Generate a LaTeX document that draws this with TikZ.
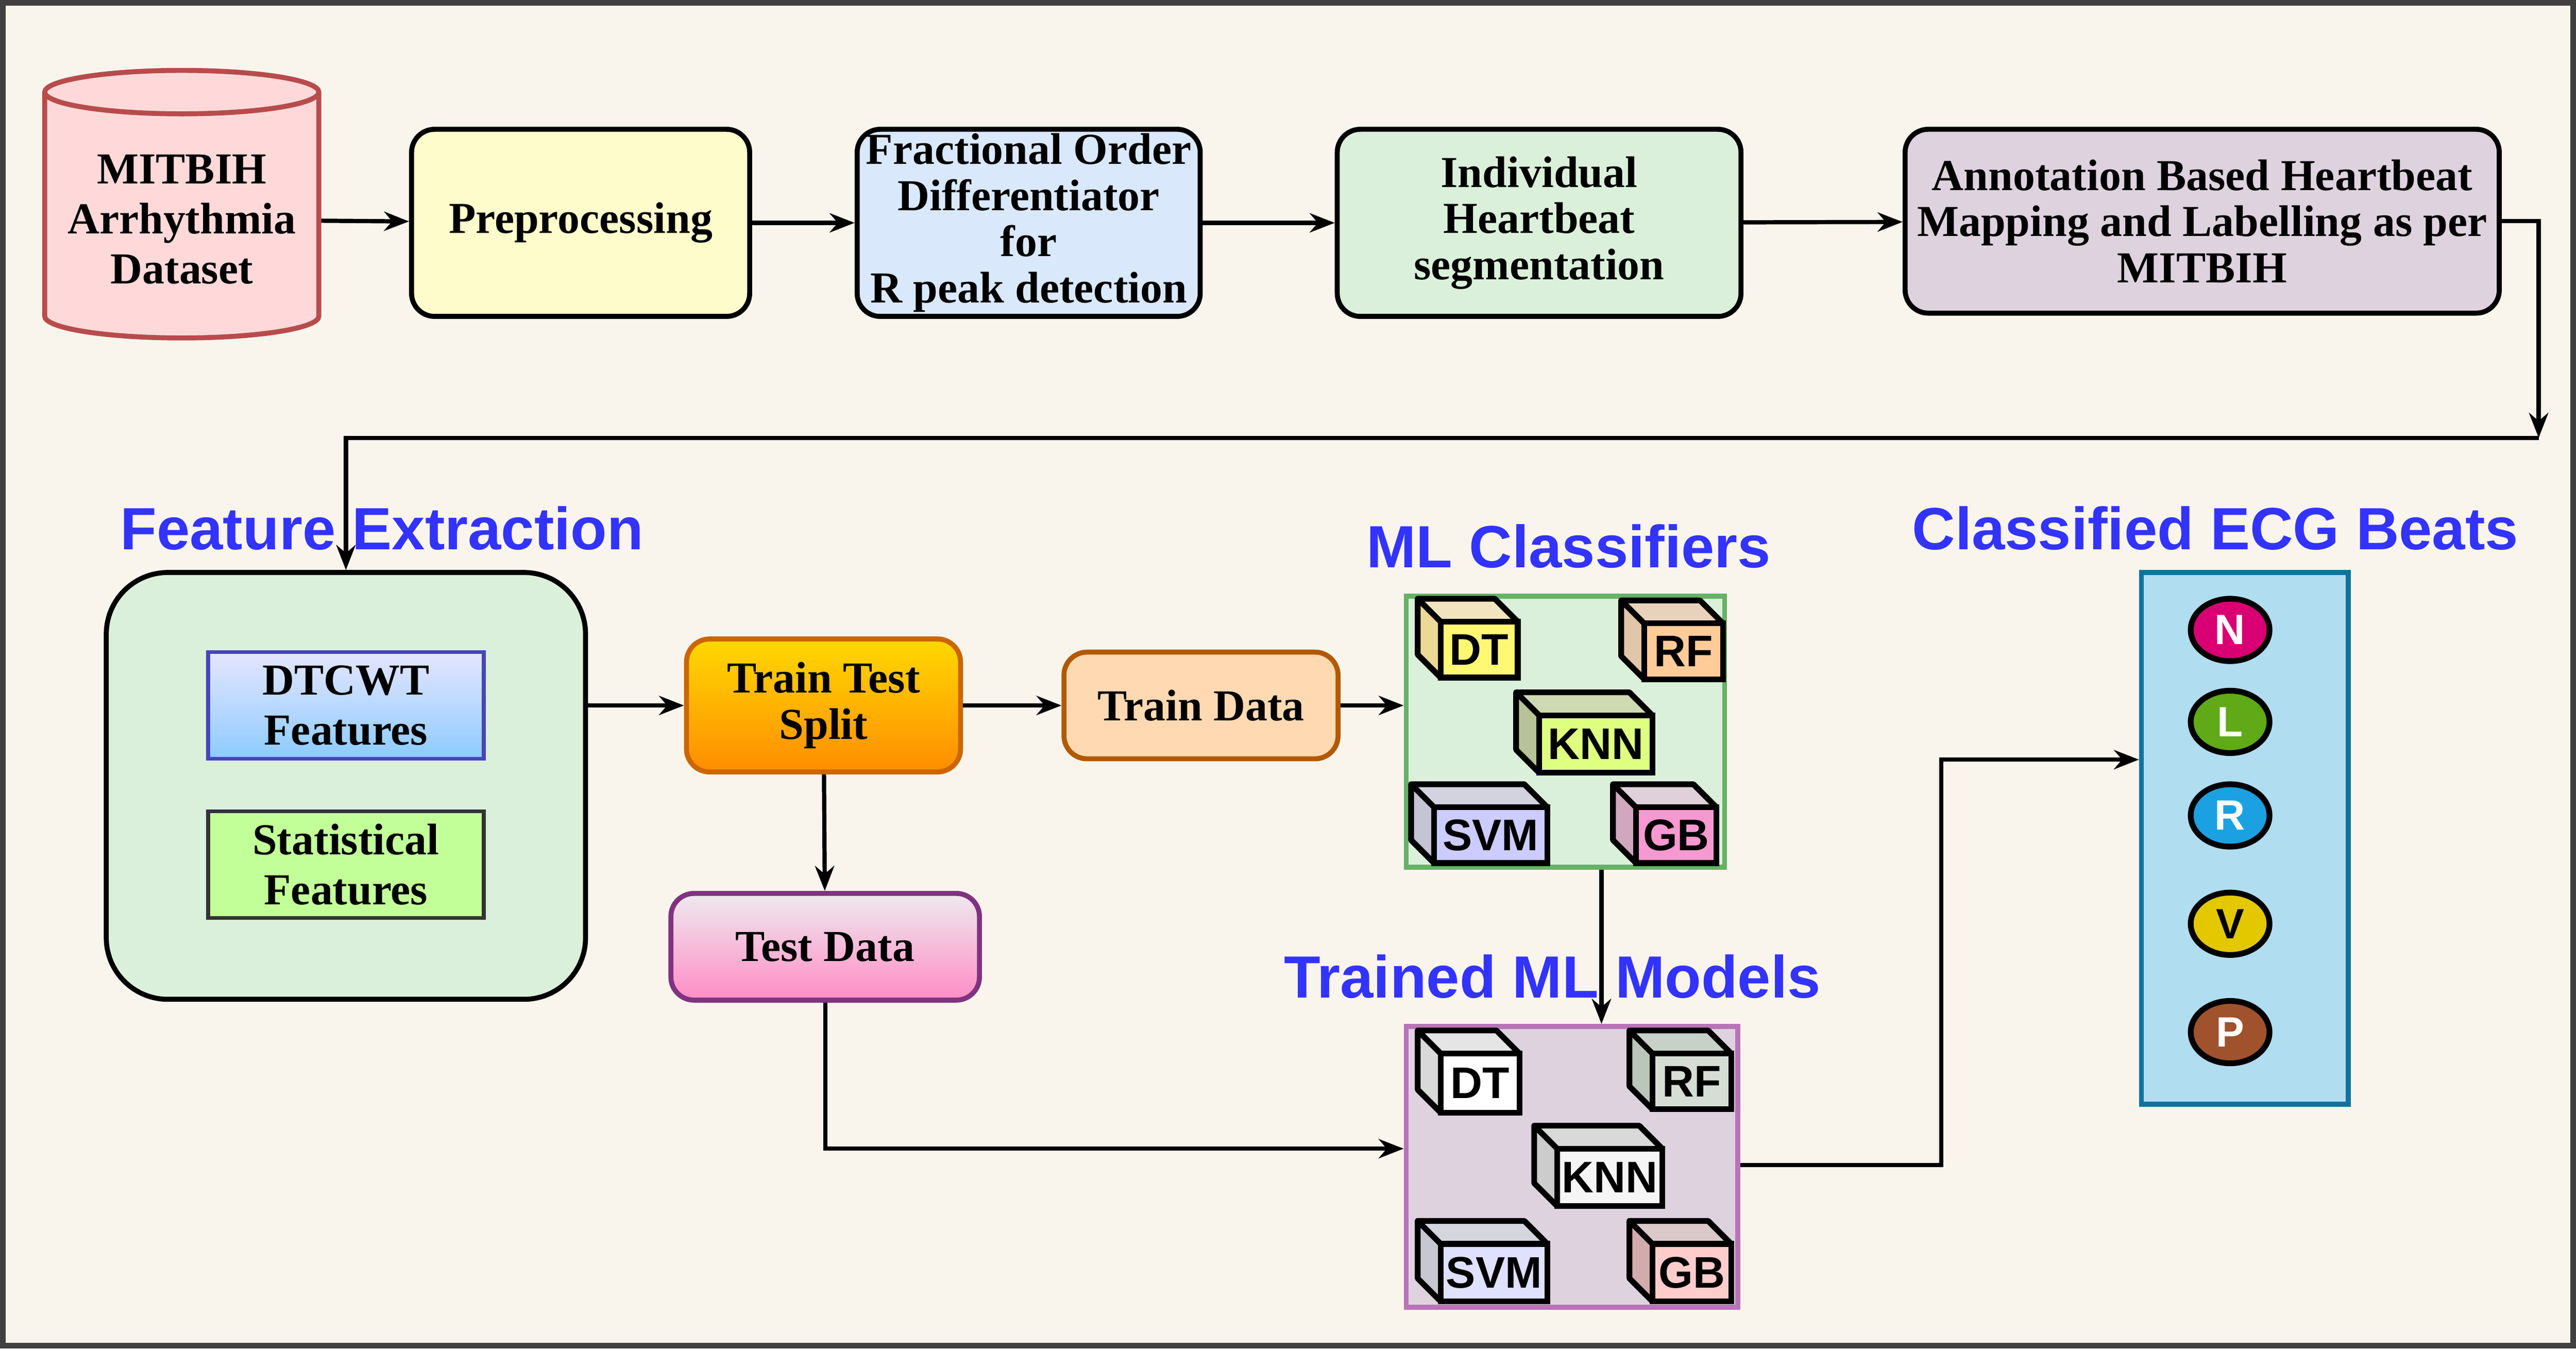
\documentclass[tikz,border=0pt]{standalone}
\usepackage{fontspec}
\setmainfont{Liberation Serif}
\newfontfamily\headfont{Liberation Sans}
\usetikzlibrary{positioning, calc, shapes.geometric, arrows.meta}

\definecolor{paper}{HTML}{F9F5EC}
\definecolor{titleblue}{HTML}{3333FF}
\definecolor{fracblue}{HTML}{DAE8FC}
\definecolor{ecgfill}{HTML}{B1DDF0}
\definecolor{ecgline}{HTML}{10739E}
\definecolor{beatn}{HTML}{D80073}
\definecolor{beatl}{HTML}{60A917}
\definecolor{beatr}{HTML}{1BA1E2}
\definecolor{beatv}{HTML}{E3C800}
\definecolor{beatp}{HTML}{A0522D}
\newdimen\pxu \pxu=0.03cm

% cube: name, x, y (front top-left), w, h, front, side, top, label
\newcommand\mlcube[9]{%
  \fill[#7] (#2,#3) -- ++(-14,-14) -- ++(0,#5) -- ++(14,14) -- cycle;
  \fill[#8] (#2,#3) -- ++(-14,-14) -- ++(#4,0) -- ++(14,14) -- cycle;
  \draw[cubeline] (#2,#3) -- ++(-14,-14) -- ++(0,#5) -- ++(14,14)
     (#2,#3) ++(-14,-14) -- ++(#4,0) -- ++(14,14);
  \node[cubeface, fill=#6, minimum width=#4*\pxu, minimum height=#5*\pxu]
     (#1) at ({#2+#4/2},{#3+#5/2}) {#9};
}

\begin{document}
\begin{tikzpicture}[x=0.03cm, y=-0.03cm,
    >={Stealth[length=13pt,width=10pt]},
    every path/.style={line width=2.2pt},
    stage/.style={draw, rounded corners=12pt, line width=2.6pt, align=center,
      inner sep=1pt, font=\fontsize{23}{24}\selectfont\bfseries},
    title/.style={text=titleblue, font=\headfont\fontsize{31}{33}\selectfont\bfseries},
    cubeline/.style={line width=3pt, line join=round},
    cubeface/.style={draw, line width=3pt, inner sep=0pt,
      font=\headfont\fontsize{23}{25}\selectfont\bfseries},
    beat/.style={ellipse, draw, line width=3pt, minimum width=48*\pxu,
      minimum height=38*\pxu, inner sep=0pt, text=white,
      font=\headfont\fontsize{22}{24}\selectfont\bfseries}]

  % background and frame
  \fill[paper] (0,0) rectangle (1568,820);
  \draw[line width=3pt, black!75] (1,1) rectangle (1567,819);
  \useasboundingbox (0,0) rectangle (1568,820);

  %% Top row
  \node[cylinder, shape border rotate=90, aspect=0.18, draw=red!60!black!70,
    fill=red!15, line width=2.6pt, minimum width=167*\pxu, minimum height=163*\pxu,
    align=center, font=\fontsize{23}{26}\selectfont\bfseries]
    (data) at (110,133) {MITBIH\\Arrhythmia\\Dataset};
  \node[stage, fill=yellow!20, minimum width=206*\pxu, minimum height=114*\pxu]
    (prep) at (353,135) {Preprocessing};
  \node[stage, fill=fracblue, minimum width=209*\pxu, minimum height=114*\pxu]
    (frac) at (626,135) {Fractional Order\\Differentiator\\for\\R peak detection};
  \node[stage, fill=green!40!gray!20, minimum width=246*\pxu, minimum height=114*\pxu]
    (indiv) at (937,135) {Individual\\Heartbeat\\segmentation};
  \node[stage, fill=violet!40!gray!25, minimum width=362*\pxu, minimum height=112*\pxu]
    (annot) at (1341,134) {Annotation Based Heartbeat\\Mapping and Labelling as per\\MITBIH};

  \draw[->] (data) -- (prep);
  \draw[->] (prep) -- (frac);
  \draw[->] (frac) -- (indiv);
  \draw[->] (indiv) -- (annot);

  %% Feature extraction
  \node[title] (feattitle) at (232,321) {Feature Extraction};
  \node[draw, line width=2.6pt, rounded corners=32pt, fill=green!40!gray!20,
    minimum width=292*\pxu, minimum height=260*\pxu] (feat) at (210,478) {};
  \node[draw=blue!45!gray, line width=2pt, top color=blue!10, bottom color=blue!45!cyan!45,
    minimum width=168*\pxu, minimum height=65*\pxu, align=center, inner sep=1pt,
    font=\fontsize{23}{26}\selectfont\bfseries] (dtcwt) at (210,429) {DTCWT\\Features};
  \node[draw=black!80, line width=2pt, fill=lime!55!green!40,
    minimum width=168*\pxu, minimum height=65*\pxu, align=center, inner sep=1pt,
    font=\fontsize{23}{26}\selectfont\bfseries] (stat) at (210,526) {Statistical\\Features};

  \coordinate (turn) at (1546,266);
  \draw[->] (annot.east) -| (turn);
  \draw[->] (turn) -| (feat.north);

  %% Split
  \node[stage, draw=orange!80!black, top color=yellow!70!orange, bottom color=orange!90!yellow,
    minimum width=167*\pxu, minimum height=81*\pxu] (split) at (501,429) {Train Test\\Split};
  \node[stage, draw=orange!70!black, fill=orange!30,
    minimum width=167*\pxu, minimum height=65*\pxu] (train) at (731,429) {Train Data};
  \node[stage, draw=violet!60!gray, top color=magenta!10!gray!15, bottom color=magenta!50!red!45,
    minimum width=188*\pxu, minimum height=65*\pxu] (test) at (502,576) {Test Data};

  \draw[->] (feat.east |- split) -- (split);
  \draw[->] (split) -- (train);
  \draw[->] (split) -- (test);

  %% ML classifiers
  \node[title] (mltitle) at (955,332) {ML Classifiers};
  \node[draw=green!50!black!60, line width=2.6pt, fill=green!40!gray!20,
    minimum width=194*\pxu, minimum height=165*\pxu] (ml) at (953,445) {};
  \mlcube{dt}{877}{378}{47}{34}{yellow!55}{yellow!40!brown!50}{yellow!30!brown!30}{DT}
  \mlcube{rf}{1001}{379}{48}{34}{orange!40}{brown!45}{brown!35}{RF}
  \mlcube{knn}{937}{435}{69}{35}{lime!50}{lime!40!black!40}{lime!50!black!30}{KNN}
  \mlcube{svm}{873}{491}{69}{34}{blue!20}{blue!15!gray!40}{blue!15!gray!30}{SVM}
  \mlcube{gb}{996}{491}{49}{34}{magenta!40}{magenta!35!gray!60}{magenta!20!gray!35}{GB}

  \draw[->] (train) -- (ml.west |- train);

  %% Trained models
  \node[title] (trtitle) at (945,594) {Trained ML Models};
  \node[draw=violet!55, line width=2.6pt, fill=violet!40!gray!25,
    minimum width=202*\pxu, minimum height=171*\pxu] (trained) at (957,710) {};
  \mlcube{dtb}{877}{641}{48}{36}{white}{gray!30}{gray!20}{DT}
  \mlcube{rfb}{1006}{641}{48}{34}{green!10!gray!30}{green!10!gray!50}{green!10!gray!40}{RF}
  \mlcube{knnb}{948}{699}{64}{35}{gray!8}{gray!40}{gray!30}{KNN}
  \mlcube{svmb}{877}{757}{65}{35}{blue!12}{blue!10!gray!40}{blue!10!gray!30}{SVM}
  \mlcube{gbb}{1006}{757}{48}{35}{red!20}{red!30!gray!50}{red!20!gray!35}{GB}

  \draw[->] (ml.south -| 975,0) -- (trained.north -| 975,0);
  \draw[->] (test.south) |- (trained.west |- 0,699);

  %% Classified beats
  \node[title] (ecgtitle) at (1349,321) {Classified ECG Beats};
  \node[draw=ecgline, line width=2.6pt, fill=ecgfill,
    minimum width=126*\pxu, minimum height=324*\pxu] (ecg) at (1367,510) {};
  \node[beat, fill=beatn] (bn) at (1358,383) {N};
  \node[beat, fill=beatl] (bl) at (1358,439) {L};
  \node[beat, fill=beatr] (br) at (1358,496) {R};
  \node[beat, fill=beatv, text=black] (bv) at (1358,562) {V};
  \node[beat, fill=beatp] (bp) at (1358,628) {P};

  \draw[->] (trained.east |- 0,709) -| (1182,462) -- (ecg.west |- 0,462);
\end{tikzpicture}
\end{document}
